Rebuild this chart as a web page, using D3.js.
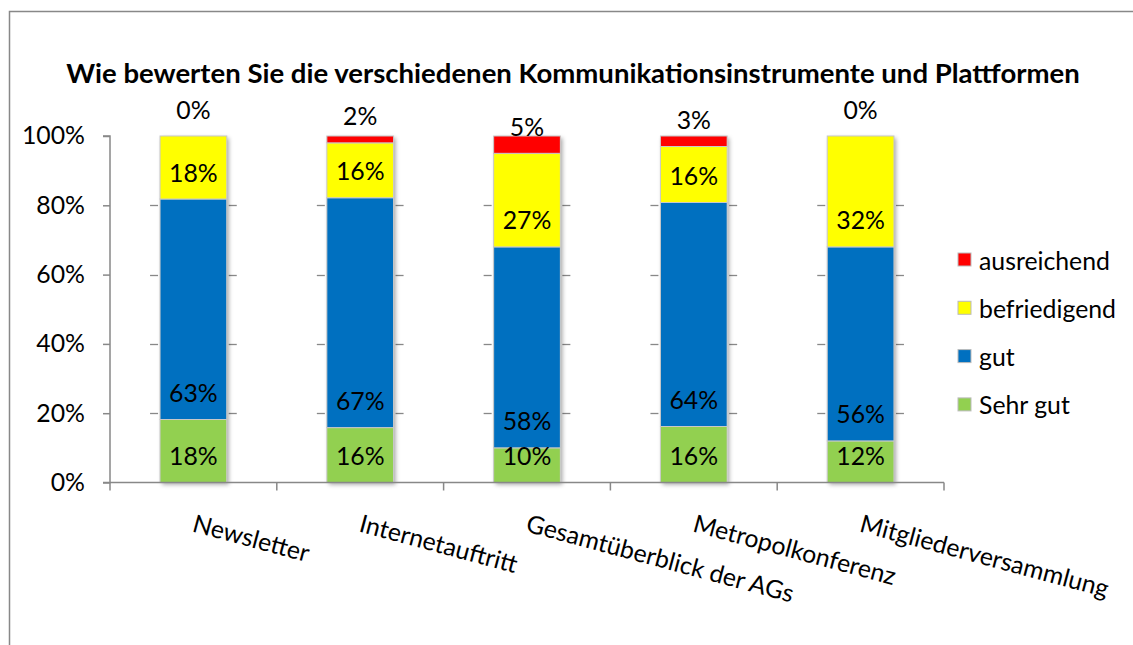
<!DOCTYPE html>
<html><head><meta charset="utf-8">
<script src="https://cdn.jsdelivr.net/npm/d3@7"></script>
<style>html,body{margin:0;padding:0;background:#fff;}svg{display:block;}</style>
</head><body>
<svg id="chart" width="1133" height="645"></svg>
<script>
const title = "Wie bewerten Sie die verschiedenen Kommunikationsinstrumente und Plattformen";
const categories = ["Newsletter","Internetauftritt","Gesamtüberblick der AGs","Metropolkonferenz","Mitgliederversammlung"];
const seriesNames = ["Sehr gut","gut","befriedigend","ausreichend"];
const sehrGut      = [18,16,10,16,12];
const gut          = [63,67,58,64,56];
const befriedigend = [18,16,27,16,32];
const ausreichend  = [0,2,5,3,0];
const colors = ["#92D050","#0070C0","#FFFF00","#FF0000"];
const yTicks = [0,0.2,0.4,0.6,0.8,1];

const rows = categories.map((c,i)=>({cat:c,"Sehr gut":sehrGut[i],"gut":gut[i],"befriedigend":befriedigend[i],"ausreichend":ausreichend[i]}));
const FONT = "Lato, 'Open Sans', sans-serif";
const svg = d3.select("#chart");

// outer frame (only top and left visible)
svg.append("rect").attr("x",9.5).attr("y",11.5).attr("width",1200).attr("height",700)
  .attr("fill","none").attr("stroke","#888").attr("stroke-width",1.5);

const defs = svg.append("defs");
const f = defs.append("filter").attr("id","sh").attr("x","-20%").attr("y","-20%").attr("width","140%").attr("height","140%");
f.append("feDropShadow").attr("dx",2).attr("dy",2).attr("stdDeviation",2).attr("flood-color","#000").attr("flood-opacity",0.35);

const x = d3.scaleBand().domain(categories).range([110,944]).paddingInner(0.6).paddingOuter(0.3);
const y = d3.scaleLinear().domain([0,1]).range([482.5,136]);

// measure helper for font sizing
function fitSize(text, target, weight){
  const t = svg.append("text").attr("font-family",FONT).attr("font-weight",weight||"normal").attr("font-size",100).text(text);
  const w = t.node().getComputedTextLength(); t.remove();
  return 100*target/w;
}
const fs = fitSize("ausreichend",131);
const tfs = fitSize(title,1014,"bold");

// title
svg.append("text").attr("x",573).attr("y",83).attr("text-anchor","middle")
  .attr("font-family",FONT).attr("font-weight","bold").attr("font-size",tfs).attr("fill","#000").text(title);

const stack = d3.stack().keys(seriesNames).offset(d3.stackOffsetExpand);
const layers = stack(rows);

// gridline stubs beside bars
const g = svg.append("g");
categories.forEach(c=>{
  [0.2,0.4,0.6,0.8].forEach(t=>{
    const yy = Math.round(y(t))+0.5;
    g.append("line").attr("x1",x(c)-10).attr("x2",x(c)-2).attr("y1",yy).attr("y2",yy).attr("stroke","#888").attr("stroke-width",1.3);
    g.append("line").attr("x1",x(c)+x.bandwidth()+2).attr("x2",x(c)+x.bandwidth()+10).attr("y1",yy).attr("y2",yy).attr("stroke","#888").attr("stroke-width",1.3);
  });
});

// bars with shadow
const barsG = svg.append("g");
barsG.append("g").attr("filter","url(#sh)").selectAll("rect.bg").data(categories).join("rect")
  .attr("x",d=>x(d)).attr("width",x.bandwidth()).attr("y",y(1)).attr("height",y(0)-y(1)).attr("fill","#fff");
layers.forEach((layer,li)=>{
  barsG.append("g").selectAll("rect").data(layer).join("rect")
    .attr("x",d=>x(d.data.cat)).attr("width",x.bandwidth())
    .attr("y",d=>y(d[1])).attr("height",d=>Math.max(0,y(d[0])-y(d[1])))
    .attr("fill",colors[li]).attr("stroke","#c8c8c8").attr("stroke-width",d=>(y(d[0])-y(d[1]))>0.5?1:0);
});

// data labels (inside base)
layers.forEach((layer,li)=>{
  svg.append("g").selectAll("text").data(layer).join("text")
    .attr("x",d=>x(d.data.cat)+x.bandwidth()/2)
    .attr("y",d=>y(d[0])-27)
    .attr("text-anchor","middle").attr("dominant-baseline","central")
    .attr("font-family",FONT).attr("font-size",fs).attr("fill","#000")
    .text(d=>d.data[layer.key]+"%");
});

// y axis
const yAxis = d3.axisLeft(y).tickValues(yTicks).tickFormat(d3.format(".0%")).tickSize(7).tickPadding(18);
const ya = svg.append("g").attr("transform","translate(110,0)").call(yAxis);
ya.select(".domain").attr("stroke","#888").attr("stroke-width",1.5).attr("d","M-7,"+y(1)+"H0V"+y(0)+"H-7");
ya.selectAll(".tick line").attr("stroke","#888").attr("stroke-width",1.5);
ya.selectAll(".tick text").attr("font-family",FONT).attr("font-size",fs).attr("fill","#000");

// x axis
const xa = svg.append("g").attr("transform","translate(0,"+y(0)+")");
xa.append("line").attr("x1",110).attr("x2",944).attr("y1",0).attr("y2",0).attr("stroke","#888").attr("stroke-width",1.5);
const bounds = categories.map(c=>x(c)-x.step()*0.3*0+ (x(c)+x.bandwidth()/2) - x.step()/2 - x(c));
const edges = [110].concat(categories.map(c=>x(c)+x.bandwidth()/2+x.step()/2));
xa.selectAll("line.t").data(edges).join("line").attr("class","t")
  .attr("x1",d=>d).attr("x2",d=>d).attr("y1",0).attr("y2",8).attr("stroke","#888").attr("stroke-width",1.5);

// x labels rotated
svg.append("g").selectAll("text").data(categories).join("text")
  .attr("transform",d=>"translate("+(x(d)+x.bandwidth()/2+3)+",512) rotate(15)")
  .attr("x",0).attr("y",0).attr("dy","0.8em")
  .attr("font-family",FONT).attr("font-size",fs).attr("fill","#000")
  .text(d=>d);

// legend (reverse order)
const legendItems = seriesNames.map((n,i)=>({n,c:colors[i]})).reverse();
const lg = svg.append("g");
legendItems.forEach((it,i)=>{
  const cy = 260 + i*48.3;
  lg.append("rect").attr("x",958).attr("y",cy-7).attr("width",13).attr("height",13)
    .attr("fill",it.c).attr("stroke","#bbb").attr("stroke-width",1);
  lg.append("text").attr("x",979).attr("y",cy).attr("dominant-baseline","central")
    .attr("font-family",FONT).attr("font-size",fs).attr("fill","#000").text(it.n);
});
</script>
</body></html>
